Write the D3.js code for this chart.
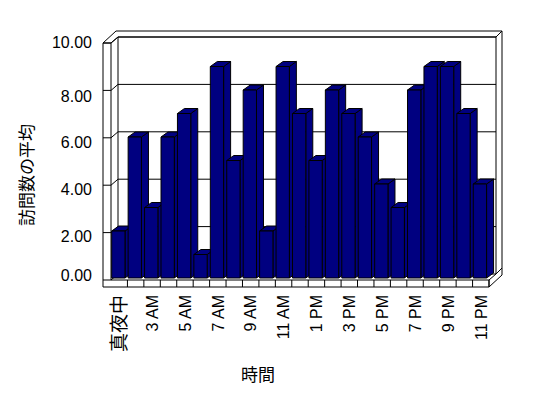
<!DOCTYPE html>
<html>
<head>
<meta charset="utf-8">
<script src="https://cdn.jsdelivr.net/npm/d3@7"></script>
<style>
  body { margin: 0; background: #fff; }
  svg { display: block; }
</style>
</head>
<body>
<svg id="chart" width="548" height="398"></svg>
<script>
// data
const categories = ["真夜中", "1 AM", "3 AM", "4 AM", "5 AM", "6 AM", "7 AM", "8 AM", "9 AM", "10 AM", "11 AM", "正午",
  "1 PM", "2 PM", "3 PM", "4 PM", "5 PM", "6 PM", "7 PM", "8 PM", "9 PM", "10 PM", "11 PM"];
const visits = [2, 6, 3, 6, 7, 1, 9, 5, 8, 2, 9, 7, 5, 8, 7, 6, 4, 3, 8, 9, 9, 7, 4];
const yTicks = [0, 2, 4, 6, 8, 10];
const yTitle = "訪問数の平均";
const xTitle = "時間";

const svg = d3.select("#chart");
const font = "'Liberation Sans', Arial, 'Noto Sans CJK JP', sans-serif";
const cjk = "'Noto Sans CJK JP', sans-serif";

// 3d box geometry
const plateLeft = 103, floorBottom = 287;
const wall = { dx: 7, dy: -6 };    // depth of floor / side wall
const thick = { dx: 6, dy: -6 };   // thickness of back wall
const barDepth = { dx: 7, dy: -5 };

const x = d3.scaleBand().domain(categories).range([111, 489]).padding(0);
const yFront = d3.scaleLinear().domain([0, 10]).range([280, 43]);
const yBar = d3.scaleLinear().domain([0, 10]).range([278, 43]);
const yLabel = d3.scaleLinear().domain([0, 10]).range([282.7, 49.4]);

const x0 = x.range()[0], x1 = x.range()[1];
const yb0 = yFront(0), yt0 = yFront(10);

const line = d3.line();
const frame = svg.append("g")
  .attr("fill", "none")
  .attr("stroke", "#000")
  .attr("stroke-width", 1);

// outer silhouette
frame.append("path")
  .attr("fill", "#fff")
  .attr("d", line([
    [plateLeft, yt0],
    [plateLeft + wall.dx + thick.dx, yt0 + wall.dy + thick.dy],
    [x1 + wall.dx + thick.dx, yt0 + wall.dy + thick.dy],
    [x1 + wall.dx + thick.dx, yb0 + wall.dy + thick.dy + 7],
    [x1, floorBottom],
    [plateLeft, floorBottom]
  ]) + "Z");

// back wall face
frame.append("path")
  .attr("d", line([
    [x0 + wall.dx, yb0 + wall.dy],
    [x0 + wall.dx, yt0 + wall.dy],
    [x1 + wall.dx, yt0 + wall.dy],
    [x1 + wall.dx, yb0 + wall.dy]
  ]));
frame.append("path")
  .attr("d", line([[x1 + wall.dx, yt0 + wall.dy], [x1 + wall.dx + thick.dx, yt0 + wall.dy + thick.dy]]));

// left plate
frame.append("path")
  .attr("d", line([[plateLeft, yt0], [x0, yt0], [x0 + wall.dx, yt0 + wall.dy]]));
frame.append("path")
  .attr("d", line([[x0, yt0], [x0, yb0]]));

// floor
frame.append("path")
  .attr("d", line([[x0, yb0], [x1, yb0], [x1 + wall.dx, yb0 + wall.dy]]));
frame.append("path")
  .attr("d", line([[x1, yb0], [x1, floorBottom]]));
frame.append("path")
  .attr("d", line([[x1 + wall.dx, yb0 + wall.dy], [x1 + wall.dx + thick.dx, yb0 + wall.dy + thick.dy]]));

// gridlines + ticks on the plate
yTicks.forEach(v => {
  const yf = yFront(v);
  frame.append("path")
    .attr("d", line([[plateLeft, yf], [x0, yf], [x0 + wall.dx, yf + wall.dy], [x1 + wall.dx, yf + wall.dy]]));
});

// category divisions on floor front
frame.selectAll("path.div")
  .data(categories.slice(1).concat([null]))
  .join("path")
  .attr("class", "div")
  .attr("d", d => {
    const xx = d === null ? x1 : x(d);
    return line([[xx, yb0], [xx, floorBottom]]);
  });

// bars
const bw = x.bandwidth() * 0.81;
const bars = svg.append("g")
  .attr("fill", "#000080")
  .attr("stroke", "#000")
  .attr("stroke-width", 1)
  .attr("stroke-linejoin", "round");

const bar = bars.selectAll("g.bar")
  .data(categories.map((c, i) => ({ c, v: visits[i] })))
  .join("g")
  .attr("class", "bar");

bar.append("path")  // side
  .attr("d", d => {
    const l = x(d.c) + 0.7, r = l + bw, t = yBar(d.v), b = yBar(0);
    return line([[r, b], [r, t], [r + barDepth.dx, t + barDepth.dy], [r + barDepth.dx, b + barDepth.dy]]) + "Z";
  });
bar.append("path")  // top
  .attr("d", d => {
    const l = x(d.c) + 0.7, r = l + bw, t = yBar(d.v);
    return line([[l, t], [r, t], [r + barDepth.dx, t + barDepth.dy], [l + barDepth.dx, t + barDepth.dy]]) + "Z";
  });
bar.append("rect")  // front
  .attr("x", d => x(d.c) + 0.7)
  .attr("y", d => yBar(d.v))
  .attr("width", bw)
  .attr("height", d => yBar(0) - yBar(d.v));

// y axis labels (end labels pulled inside the plate, like excel does)
const yAxis = svg.append("g")
  .attr("transform", `translate(${plateLeft - 11},0)`)
  .call(d3.axisLeft(yLabel).tickValues(yTicks).tickSize(0).tickPadding(0).tickFormat(d3.format(".2f")));
yAxis.select(".domain").remove();
yAxis.selectAll("text")
  .attr("fill", "#000")
  .style("font-family", font)
  .style("font-size", "16px")
  .attr("dy", "0.32em")
  .attr("y", d => (d === 10 || d === 0) ? -7 : 0);

// x axis labels
const xAxis = svg.append("g")
  .attr("transform", `translate(0,${floorBottom})`)
  .call(d3.axisBottom(x).tickValues(categories.filter((c, i) => i % 2 === 0)).tickSize(0).tickPadding(0));
xAxis.select(".domain").remove();
xAxis.selectAll("text")
  .attr("fill", "#000")
  .attr("transform", "rotate(-90)")
  .attr("x", -8)
  .attr("y", 0)
  .attr("dy", "0.36em")
  .style("text-anchor", "end")
  .style("font-family", d => /[\u3000-\u9fff]/.test(d) ? cjk : font)
  .style("font-size", d => /[\u3000-\u9fff]/.test(d) ? "19px" : "16px");

// titles
svg.append("text")
  .attr("transform", "translate(27,175) rotate(-90)")
  .attr("text-anchor", "middle")
  .attr("dy", "0.35em")
  .style("font-family", cjk)
  .style("font-size", "17px")
  .text(yTitle);

svg.append("text")
  .attr("x", 258)
  .attr("y", 381)
  .attr("text-anchor", "middle")
  .style("font-family", cjk)
  .style("font-size", "17px")
  .text(xTitle);
</script>
</body>
</html>
